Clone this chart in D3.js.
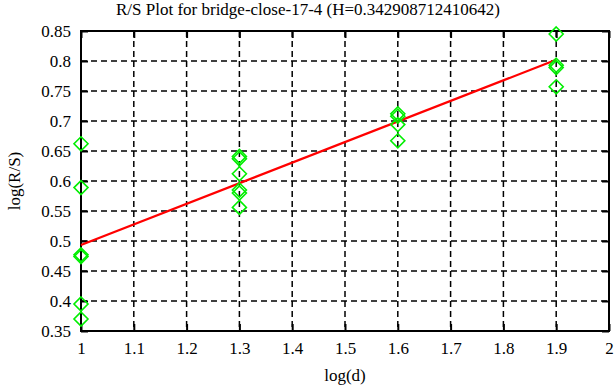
<!DOCTYPE html>
<html>
<head>
<meta charset="utf-8">
<script src="https://cdn.jsdelivr.net/npm/d3@7"></script>
<style>
  body { margin: 0; background: #fff; }
  svg text { font-family: "Liberation Serif", "DejaVu Serif", serif; }
</style>
</head>
<body>
<script>
// log(d) positions and the log(R/S) values
const logD  = [1, 1, 1, 1, 1, 1,
               1.3, 1.3, 1.3, 1.3, 1.3, 1.3,
               1.6, 1.6, 1.6, 1.6,
               1.9, 1.9, 1.9, 1.9];
const logRS = [0.662, 0.589, 0.477, 0.474, 0.395, 0.370,
               0.641, 0.637, 0.612, 0.585, 0.580, 0.556,
               0.712, 0.708, 0.694, 0.667,
               0.845, 0.793, 0.789, 0.757];
const H = 0.342908712410642;
const intercept = 0.1505;
const fitRange = [1, 1.9];
const xTicks = [1, 1.1, 1.2, 1.3, 1.4, 1.5, 1.6, 1.7, 1.8, 1.9, 2];
const yTicks = [0.35, 0.4, 0.45, 0.5, 0.55, 0.6, 0.65, 0.7, 0.75, 0.8, 0.85];

const width = 616, height = 387;
const margin = {top: 31, right: 7, bottom: 56, left: 81};

const svg = d3.select("body").append("svg")
    .attr("width", width)
    .attr("height", height);

const x = d3.scaleLinear().domain([1, 2]).range([margin.left, width - margin.right]);
const y = d3.scaleLinear().domain([0.35, 0.85]).range([height - margin.bottom, margin.top]);

// dashed grid
svg.append("g").selectAll("line")
    .data(xTicks.slice(1, -1))
    .enter().append("line")
    .attr("x1", d => x(d)).attr("x2", d => x(d))
    .attr("y1", y(0.85)).attr("y2", y(0.35))
    .attr("stroke", "#000").attr("stroke-width", 1.5)
    .attr("stroke-dasharray", "6,4");

svg.append("g").selectAll("line")
    .data(yTicks.slice(1, -1))
    .enter().append("line")
    .attr("x1", x(1)).attr("x2", x(2))
    .attr("y1", d => y(d)).attr("y2", d => y(d))
    .attr("stroke", "#000").attr("stroke-width", 1.5)
    .attr("stroke-dasharray", "6,4");

// axes with inward ticks
const fmt = d3.format("");
svg.append("g")
    .attr("transform", `translate(0,${y(0.35)})`)
    .call(d3.axisBottom(x).tickValues(xTicks).tickSize(-7).tickPadding(11).tickFormat(fmt))
    .call(g => g.select(".domain").remove());
svg.append("g")
    .attr("transform", `translate(0,${y(0.85)})`)
    .call(d3.axisTop(x).tickValues(xTicks).tickSize(-7).tickFormat(""))
    .call(g => g.select(".domain").remove());
svg.append("g")
    .attr("transform", `translate(${x(1)},0)`)
    .call(d3.axisLeft(y).tickValues(yTicks).tickSize(-7).tickPadding(10).tickFormat(fmt))
    .call(g => g.select(".domain").remove());
svg.append("g")
    .attr("transform", `translate(${x(2)},0)`)
    .call(d3.axisRight(y).tickValues(yTicks).tickSize(-7).tickFormat(""))
    .call(g => g.select(".domain").remove());

svg.selectAll(".tick line").attr("stroke-width", 2);
svg.selectAll(".tick text")
    .style("font-size", "17px")
    .style("font-family", "'Liberation Serif', serif")
    .attr("fill", "#000");

// frame
svg.append("rect")
    .attr("x", x(1)).attr("y", y(0.85))
    .attr("width", x(2) - x(1)).attr("height", y(0.35) - y(0.85))
    .attr("fill", "none").attr("stroke", "#000").attr("stroke-width", 2);

// fit line
svg.append("line")
    .attr("x1", x(fitRange[0])).attr("y1", y(intercept + H * fitRange[0]))
    .attr("x2", x(fitRange[1])).attr("y2", y(intercept + H * fitRange[1]))
    .attr("stroke", "#ff0000").attr("stroke-width", 2.2);

// diamonds
const r = 7;
svg.append("g").selectAll("path")
    .data(logD.map((d, i) => [d, logRS[i]]))
    .enter().append("path")
    .attr("d", d => {
        const cx = x(d[0]), cy = y(d[1]);
        return `M${cx},${cy - r}L${cx + r},${cy}L${cx},${cy + r}L${cx - r},${cy}Z`;
    })
    .attr("fill", "none")
    .attr("stroke", "#00ee00")
    .attr("stroke-width", 1.6);

// titles
svg.append("text")
    .attr("x", width / 2).attr("y", 15)
    .attr("text-anchor", "middle")
    .style("font-size", "17px")
    .text("R/S Plot for bridge-close-17-4 (H=0.342908712410642)");

svg.append("text")
    .attr("x", x(1.5)).attr("y", 381)
    .attr("text-anchor", "middle")
    .style("font-size", "17px")
    .text("log(d)");

svg.append("text")
    .attr("transform", `translate(20,${y(0.6)}) rotate(-90)`)
    .attr("text-anchor", "middle")
    .style("font-size", "17px")
    .text("log(R/S)");
</script>
</body>
</html>
